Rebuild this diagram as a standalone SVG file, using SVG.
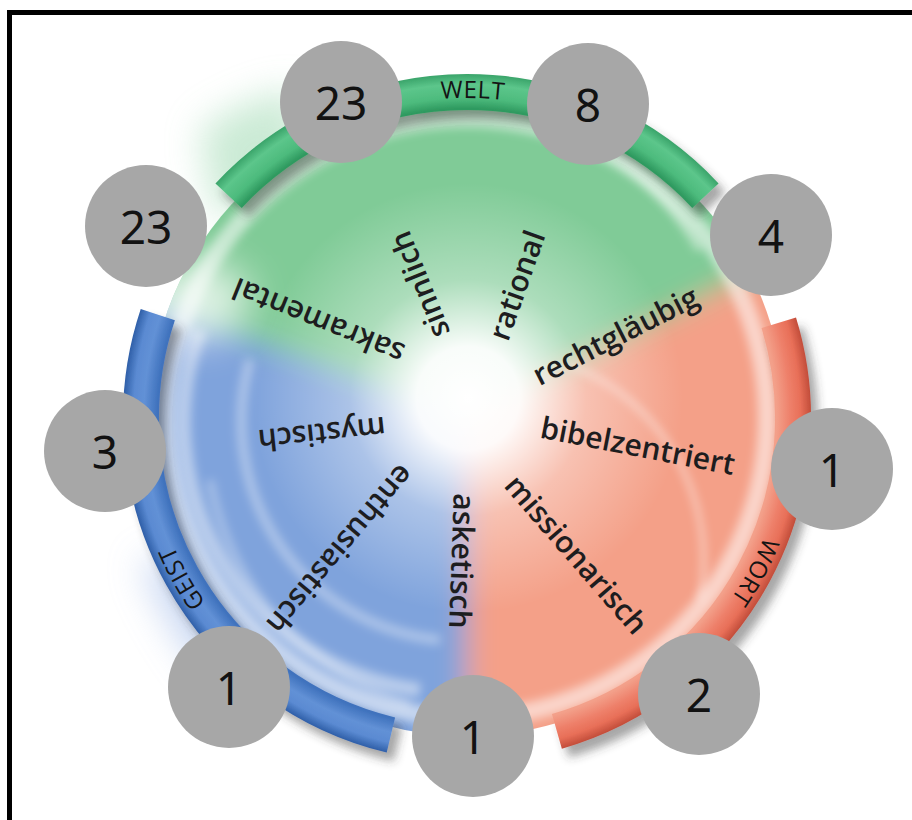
<svg xmlns="http://www.w3.org/2000/svg" width="912" height="820" viewBox="0 0 912 820">
  <defs>
    <style>
      .word { font-family: "Open Sans", "Noto Sans", sans-serif; font-weight: 600; font-size: 30px; fill: #1d1d1f; text-anchor: middle; dominant-baseline: central; }
      .ring-label { font-family: "Open Sans", "Noto Sans", sans-serif; font-size: 24px; fill: #141414; letter-spacing: 0.5px; }
      .badge circle { fill: #a7a7a7; }
      .badge text { font-family: "Noto Sans", "Open Sans", sans-serif; font-size: 46px; fill: #121212; text-anchor: middle; dominant-baseline: central; }
      .band { fill: none; stroke-width: 36; stroke-linecap: butt; }
    </style>

    <!-- soft blending of the colour sectors -->
    <filter id="soft" x="-20%" y="-20%" width="140%" height="140%">
      <feGaussianBlur stdDeviation="14"/>
    </filter>
    <filter id="haze" x="-50%" y="-50%" width="200%" height="200%">
      <feGaussianBlur stdDeviation="18"/>
    </filter>
    <filter id="glowBlur" x="-20%" y="-20%" width="140%" height="140%">
      <feGaussianBlur stdDeviation="5"/>
    </filter>
    <filter id="bigBlur" x="-50%" y="-50%" width="200%" height="200%">
      <feGaussianBlur stdDeviation="20"/>
    </filter>
    <!-- drop shadow under the ribbons -->
    <filter id="bandShadow" x="-20%" y="-20%" width="140%" height="140%">
      <feGaussianBlur in="SourceAlpha" stdDeviation="5" result="b"/>
      <feOffset in="b" dx="7" dy="9" result="o"/>
      <feFlood flood-color="#3a3a3a" flood-opacity="0.45"/>
      <feComposite in2="o" operator="in" result="s"/>
      <feMerge>
        <feMergeNode in="s"/>
        <feMergeNode in="SourceGraphic"/>
      </feMerge>
    </filter>

    <clipPath id="discClip">
      <circle cx="467" cy="418" r="318"/>
    </clipPath>

    <radialGradient id="centerGlow" gradientUnits="userSpaceOnUse" cx="468" cy="398" r="215">
      <stop offset="0" stop-color="#ffffff" stop-opacity="1"/>
      <stop offset="0.24" stop-color="#ffffff" stop-opacity="0.95"/>
      <stop offset="0.55" stop-color="#ffffff" stop-opacity="0.35"/>
      <stop offset="1" stop-color="#ffffff" stop-opacity="0"/>
    </radialGradient>

    <!-- tube shading across each ribbon -->
    <radialGradient id="greenBand" gradientUnits="userSpaceOnUse" cx="467" cy="418" r="344">
      <stop offset="0.90" stop-color="#2f9a60"/>
      <stop offset="0.93" stop-color="#4dbb7d"/>
      <stop offset="0.97" stop-color="#5cc68b"/>
      <stop offset="1" stop-color="#3aa46a"/>
    </radialGradient>
    <radialGradient id="blueBand" gradientUnits="userSpaceOnUse" cx="467" cy="418" r="344">
      <stop offset="0.90" stop-color="#3f72bd"/>
      <stop offset="0.94" stop-color="#6291d6"/>
      <stop offset="0.97" stop-color="#5a8ad2"/>
      <stop offset="1" stop-color="#2f5fa8"/>
    </radialGradient>
    <radialGradient id="redBand" gradientUnits="userSpaceOnUse" cx="467" cy="418" r="344">
      <stop offset="0.90" stop-color="#f3a08a"/>
      <stop offset="0.94" stop-color="#ee806a"/>
      <stop offset="0.97" stop-color="#e86f58"/>
      <stop offset="1" stop-color="#c24d3a"/>
    </radialGradient>

    <!-- baseline circle for the ribbon labels, clockwise from the left -->
    <path id="labelRing" d="M147,418 A320,320 0 1 1 787,418 A320,320 0 1 1 147,418"/>
  </defs>

  <rect x="0" y="0" width="912" height="820" fill="#ffffff"/>

  <!-- outer colour haze at the upper left and lower left -->
  <g filter="url(#haze)" opacity="0.6">
    <path d="M200,130 Q250,95 300,90 L300,200 L215,215 Z" fill="#a8ddb9"/>
    <path d="M140,560 Q170,640 220,690 L250,640 L200,560 Z" fill="#a9c0ea"/>
  </g>

  <!-- colour disc -->
  <g id="disc" clip-path="url(#discClip)">
    <g filter="url(#soft)">
      <path d="M467,418 L44,264 A450,450 0 0 1 868,214 Z" fill="#80cb97"/>
      <path d="M467,418 L467,868 A450,450 0 0 1 44,264 Z" fill="#7fa3dc"/>
      <path d="M467,418 L868,214 A450,450 0 0 1 467,868 Z" fill="#f4a088"/>
    </g>
    <!-- pale blend where green meets blue -->
    <ellipse cx="195" cy="300" rx="55" ry="40" fill="#ffffff" opacity="0.75" filter="url(#bigBlur)"/>
    <!-- swirl highlights -->
    <g filter="url(#glowBlur)" fill="none" stroke="#ffffff">
      <path d="M200,330 A270,270 0 0 0 420,690" stroke-width="14" stroke-opacity="0.45"/>
      <path d="M250,360 A220,220 0 0 0 440,640" stroke-width="10" stroke-opacity="0.35"/>
      <path d="M210,480 A290,290 0 0 0 410,705" stroke-width="8" stroke-opacity="0.3"/>
      <path d="M570,365 A210,210 0 0 1 700,600" stroke-width="4" stroke-opacity="0.6"/>
      <path d="M610,150 A300,300 0 0 1 700,250" stroke-width="10" stroke-opacity="0.35"/>
      <path d="M300,150 A300,300 0 0 1 420,115" stroke-width="12" stroke-opacity="0.35"/>
    </g>
    <!-- pale rim just inside the ribbons -->
    <circle cx="467" cy="418" r="300" fill="none" stroke="#ffffff" stroke-width="18" stroke-opacity="0.55" filter="url(#glowBlur)"/>
    <circle cx="467" cy="418" r="320" fill="url(#centerGlow)"/>
  </g>

  <!-- ribbons -->
  <g id="ribbons" filter="url(#bandShadow)">
    <path id="ribbon-welt" class="band" stroke="url(#greenBand)" d="M228.6,195.7 A326,326 0 0 1 705.4,195.7"/>
    <path id="ribbon-wort" class="band" stroke="url(#redBand)" d="M778.8,322.7 A326,326 0 0 1 556.9,731.4"/>
    <path id="ribbon-geist" class="band" stroke="url(#blueBand)" d="M390.9,735 A326,326 0 0 1 157.8,314.6"/>
  </g>

  <!-- ribbon labels -->
  <g id="ribbon-labels">
    <text class="ring-label"><textPath href="#labelRing" startOffset="508" text-anchor="middle">WELT</textPath></text>
    <text class="ring-label"><textPath href="#labelRing" startOffset="1162" text-anchor="middle">WORT</textPath></text>
    <text class="ring-label"><textPath href="#labelRing" startOffset="1846" text-anchor="middle">GEIST</textPath></text>
  </g>

  <!-- radial words -->
  <g id="words">
    <text class="word" transform="translate(516,285) rotate(-70.6)">rational</text>
    <text class="word" transform="translate(419,285) rotate(-112)">sinnlich</text>
    <text class="word" transform="translate(318,322) rotate(-158)">sakramental</text>
    <text class="word" transform="translate(322,435) rotate(174)">mystisch</text>
    <text class="word" transform="translate(341,550) rotate(130)">enthusiastisch</text>
    <text class="word" transform="translate(463,561) rotate(92)">asketisch</text>
    <text class="word" transform="translate(577,554) rotate(49)">missionarisch</text>
    <text class="word" transform="translate(638,445) rotate(11)">bibelzentriert</text>
    <text class="word" transform="translate(615,335) rotate(-27)">rechtgläubig</text>
  </g>

  <!-- count badges -->
  <g id="badge-welt-left" class="badge"><circle cx="341" cy="102" r="61"/><text x="341" y="102">23</text></g>
  <g id="badge-welt-right" class="badge"><circle cx="588" cy="104" r="61"/><text x="588" y="104">8</text></g>
  <g id="badge-nw" class="badge"><circle cx="146" cy="226" r="61"/><text x="146" y="226">23</text></g>
  <g id="badge-ne" class="badge"><circle cx="771" cy="235" r="61"/><text x="771" y="235">4</text></g>
  <g id="badge-west" class="badge"><circle cx="105" cy="451" r="61"/><text x="105" y="451">3</text></g>
  <g id="badge-east" class="badge"><circle cx="832" cy="469" r="61"/><text x="832" y="469">1</text></g>
  <g id="badge-sw" class="badge"><circle cx="229" cy="687" r="61"/><text x="229" y="687">1</text></g>
  <g id="badge-south" class="badge"><circle cx="473" cy="736" r="61"/><text x="473" y="736">1</text></g>
  <g id="badge-se" class="badge"><circle cx="699" cy="694" r="61"/><text x="699" y="694">2</text></g>

  <!-- frame -->
  <path d="M9.5,820 L9.5,12.5 L912,12.5" fill="none" stroke="#000000" stroke-width="5"/>
</svg>
